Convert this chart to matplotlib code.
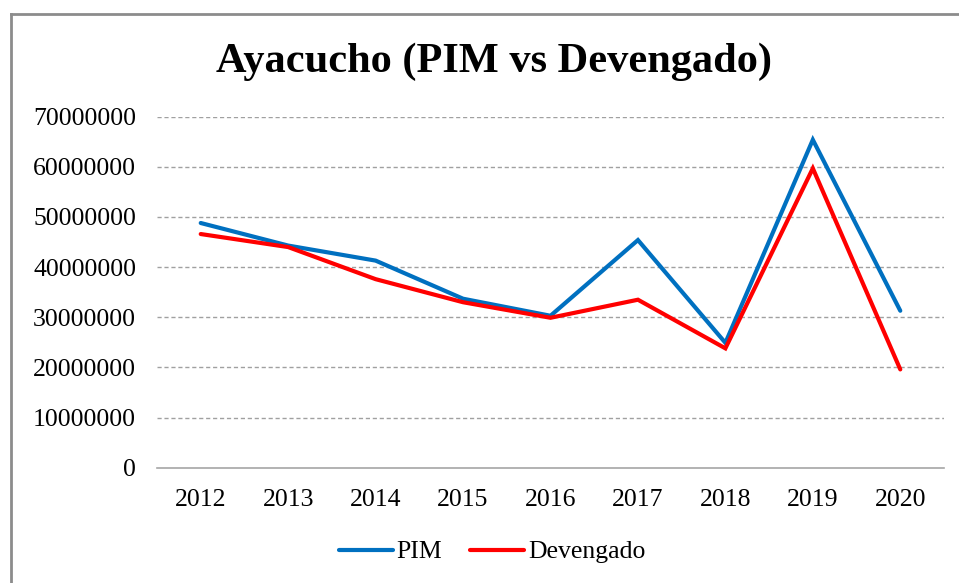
import matplotlib
matplotlib.use("Agg")
import matplotlib.pyplot as plt
from matplotlib.lines import Line2D

years = ["2012", "2013", "2014", "2015", "2016", "2017", "2018", "2019", "2020"]
pim = [48.8e6, 44.3e6, 41.3e6, 33.7e6, 30.3e6, 45.4e6, 24.9e6, 65.4e6, 31.3e6]
devengado = [46.6e6, 44.0e6, 37.6e6, 33.0e6, 29.9e6, 33.5e6, 23.8e6, 59.7e6, 19.6e6]
yticks = [0, 10000000, 20000000, 30000000, 40000000, 50000000, 60000000, 70000000]

plt.rcParams['font.family'] = ['Liberation Serif', 'DejaVu Serif']

fig = plt.figure(figsize=(9.59, 5.83), dpi=100)
ax = fig.add_axes([157/959, 1 - 467.7/583, (944-157)/959, (467.7-116.7)/583])

x = list(range(len(years)))
ax.plot(x, pim, color='#0070C0', lw=3.0, label='PIM', solid_capstyle='round', solid_joinstyle='miter')
ax.plot(x, devengado, color='#FF0000', lw=3.0, label='Devengado', solid_capstyle='round', solid_joinstyle='miter')

ax.set_xlim(-0.5, len(years) - 0.5)
ax.set_ylim(0, 70000000)
ax.set_xticks(x)
ax.set_xticklabels(years)
ax.set_yticks(yticks)
ax.set_yticklabels([str(v) for v in yticks])
ax.tick_params(axis='both', length=0, labelsize=18.5, colors='black')
ax.tick_params(axis='y', pad=15)
ax.tick_params(axis='x', pad=15)

for v in yticks[1:]:
    ax.axhline(v, color='#A0A0A0', lw=1.0, ls=(0, (3, 2)), zorder=0)

for s in ['top', 'right', 'left']:
    ax.spines[s].set_visible(False)
ax.spines['bottom'].set_color('#A6A6A6')
ax.spines['bottom'].set_linewidth(1.2)

fig.text(494/959, 1 - 62/583, "Ayacucho (PIM vs Devengado)", ha='center', va='center',
         fontsize=30.5, fontweight='bold')

leg = fig.legend(loc='center', bbox_to_anchor=(492/959, 1 - 552/583), ncol=2, frameon=False,
                 fontsize=18.5, handlelength=2.1, handletextpad=0.15, columnspacing=1.1)

# outer frame (top and left edges)
fig.add_artist(Line2D([11/959, 11/959], [0, 1 - 14/583], color='#8C8C8C', lw=2.0,
                      transform=fig.transFigure))
fig.add_artist(Line2D([11/959, 1], [1 - 14/583, 1 - 14/583], color='#8C8C8C', lw=2.0,
                      transform=fig.transFigure))

fig.savefig("out.png", dpi=100)
